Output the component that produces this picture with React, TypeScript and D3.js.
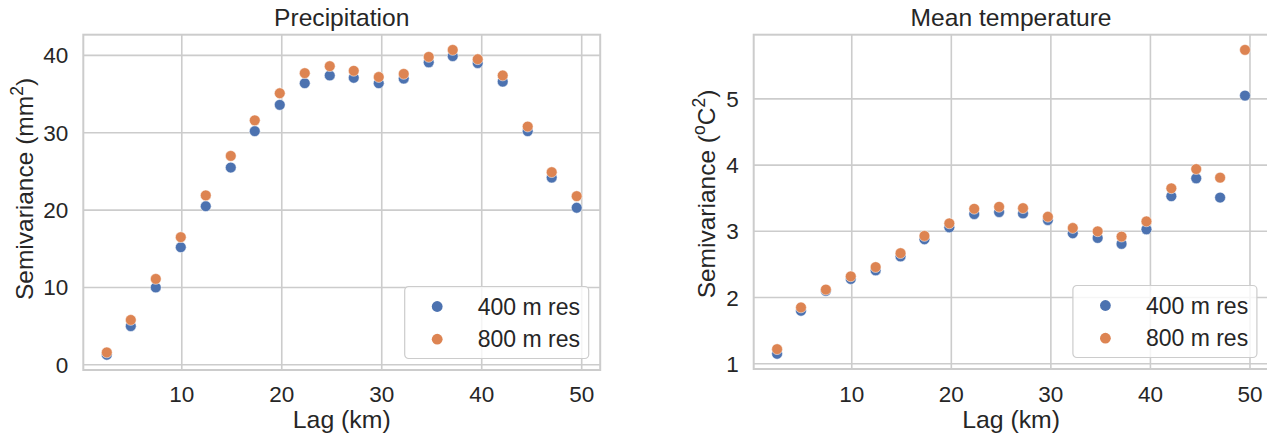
import React, { useEffect, useRef } from "react";
import * as d3 from "d3";

// lag distances (km), same for both panels
const lags = [2.5, 4.9, 7.4, 9.9, 12.4, 14.9, 17.3, 19.8, 22.3, 24.8, 27.2, 29.7, 32.2, 34.7, 37.1, 39.6, 42.1, 44.6, 47.0, 49.5];

// precipitation semivariance (mm^2)
const precip400 = [1.3, 5.0, 10.0, 15.2, 20.5, 25.5, 30.2, 33.6, 36.4, 37.4, 37.1, 36.4, 37.0, 39.1, 39.9, 39.0, 36.6, 30.2, 24.2, 20.3];
const precip800 = [1.6, 5.8, 11.1, 16.5, 21.9, 27.0, 31.6, 35.1, 37.7, 38.6, 38.0, 37.2, 37.6, 39.8, 40.7, 39.5, 37.4, 30.8, 24.9, 21.8];

// mean temperature semivariance (oC^2)
const temp400 = [1.15, 1.8, 2.1, 2.28, 2.41, 2.62, 2.88, 3.06, 3.26, 3.29, 3.27, 3.17, 2.97, 2.9, 2.81, 3.03, 3.53, 3.8, 3.51, 5.05];
const temp800 = [1.22, 1.85, 2.12, 2.32, 2.46, 2.67, 2.93, 3.12, 3.34, 3.37, 3.35, 3.22, 3.05, 3.0, 2.92, 3.15, 3.65, 3.94, 3.81, 5.74];

const xTicks = [10, 20, 30, 40, 50];
const precipTicks = [0, 10, 20, 30, 40];
const tempTicks = [1, 2, 3, 4, 5];
const seriesNames = ["400 m res", "800 m res"];
const colors = ["#4C72B0", "#DD8452"];

const FONT = "'Liberation Sans', Arial, Helvetica, sans-serif";
const TEXT = "#262626";
const GRID = "#cccccc";

// pad a domain by 5% like matplotlib does
function padded(vals: number[]): [number, number] {
  const [lo, hi] = d3.extent(vals) as [number, number];
  const m = (hi - lo) * 0.05;
  return [lo - m, hi + m];
}

function drawPanel(svg: any, opts: any) {
  const { left, right, top, bottom, title, ys, yTicks, labelX, labelY, labelParts } = opts;
  const g = svg.append("g");

  const x = d3.scaleLinear().domain(padded(lags)).range([left, right]);
  const y = d3.scaleLinear().domain(padded(ys.flat())).range([bottom, top]);

  // grid
  g.selectAll(".vgrid").data(xTicks).join("line")
    .attr("x1", (d: number) => x(d)).attr("x2", (d: number) => x(d))
    .attr("y1", top).attr("y2", bottom)
    .attr("stroke", GRID).attr("stroke-width", 1.6);
  g.selectAll(".hgrid").data(yTicks).join("line")
    .attr("x1", left).attr("x2", right)
    .attr("y1", (d: number) => y(d)).attr("y2", (d: number) => y(d))
    .attr("stroke", GRID).attr("stroke-width", 1.6);

  // frame
  g.append("rect")
    .attr("x", left).attr("y", top)
    .attr("width", right - left).attr("height", bottom - top)
    .attr("fill", "none").attr("stroke", GRID).attr("stroke-width", 2);

  // tick labels
  g.selectAll(".xt").data(xTicks).join("text")
    .attr("x", (d: number) => x(d)).attr("y", 402)
    .attr("text-anchor", "middle")
    .attr("font-family", FONT).attr("font-size", 22.5).attr("fill", TEXT)
    .text((d: number) => d);
  g.selectAll(".yt").data(yTicks).join("text")
    .attr("x", left - 15).attr("y", (d: number) => y(d) + 8)
    .attr("text-anchor", "end")
    .attr("font-family", FONT).attr("font-size", 22.5).attr("fill", TEXT)
    .text((d: number) => d);

  // title and axis labels
  g.append("text")
    .attr("x", (left + right) / 2).attr("y", 26)
    .attr("text-anchor", "middle")
    .attr("font-family", FONT).attr("font-size", 24.6).attr("fill", TEXT)
    .text(title);
  g.append("text")
    .attr("x", (left + right) / 2).attr("y", 428)
    .attr("text-anchor", "middle")
    .attr("font-family", FONT).attr("font-size", 24.8).attr("fill", TEXT)
    .text("Lag (km)");

  const yl = g.append("text")
    .attr("transform", `translate(${labelX},${labelY}) rotate(-90)`)
    .attr("text-anchor", "middle")
    .attr("font-family", FONT).attr("font-size", 24.5).attr("fill", TEXT);
  labelParts.forEach((p: any) => {
    yl.append("tspan")
      .attr("dy", p.dy || 0)
      .attr("font-size", p.sup ? 17.5 : 24.5)
      .text(p.t);
  });

  // points
  ys.forEach((vals: number[], si: number) => {
    g.append("g").selectAll("circle").data(vals).join("circle")
      .attr("cx", (_d: number, i: number) => x(lags[i]))
      .attr("cy", (d: number) => y(d))
      .attr("r", 5.4)
      .attr("fill", colors[si])
      .attr("stroke", "white").attr("stroke-width", 0.5);
  });

  // legend
  const lw = 184, lh = 72;
  const lx = right - 11.5 - lw, ly = bottom - 11.5 - lh;
  const leg = g.append("g").attr("transform", `translate(${lx},${ly})`);
  leg.append("rect")
    .attr("width", lw).attr("height", lh).attr("rx", 4)
    .attr("fill", "white").attr("fill-opacity", 0.8)
    .attr("stroke", GRID).attr("stroke-width", 1.2);
  seriesNames.forEach((name, i) => {
    const cy = 20 + i * 32.7;
    leg.append("circle").attr("cx", 32.5).attr("cy", cy).attr("r", 5.4).attr("fill", colors[i]);
    leg.append("text")
      .attr("x", 73).attr("y", cy + 8)
      .attr("font-family", FONT).attr("font-size", 23).attr("fill", TEXT)
      .text(name);
  });
}

export default function App() {
  const ref = useRef<SVGSVGElement>(null);

  useEffect(() => {
    const svg = d3.select(ref.current);
    svg.selectAll("*").remove();
    svg.append("rect").attr("width", 1267).attr("height", 439).attr("fill", "white");

    drawPanel(svg, {
      left: 83.3, right: 600.2, top: 34.7, bottom: 370,
      title: "Precipitation",
      ys: [precip400, precip800],
      yTicks: precipTicks,
      labelX: 33, labelY: 189,
      labelParts: [
        { t: "Semivariance (mm" },
        { t: "2", sup: true, dy: -10 },
        { t: ")", dy: 10 },
      ],
    });

    drawPanel(svg, {
      left: 753.7, right: 1268.4, top: 34.7, bottom: 369,
      title: "Mean temperature",
      ys: [temp400, temp800],
      yTicks: tempTicks,
      labelX: 715, labelY: 194,
      labelParts: [
        { t: "Semivariance (" },
        { t: "o", sup: true, dy: -10 },
        { t: "C", dy: 10 },
        { t: "2", sup: true, dy: -10 },
        { t: ")", dy: 10 },
      ],
    });
  }, []);

  return (
    <svg
      ref={ref}
      width={1267}
      height={439}
      style={{ position: "absolute", left: 0, top: 0, display: "block" }}
    />
  );
}
